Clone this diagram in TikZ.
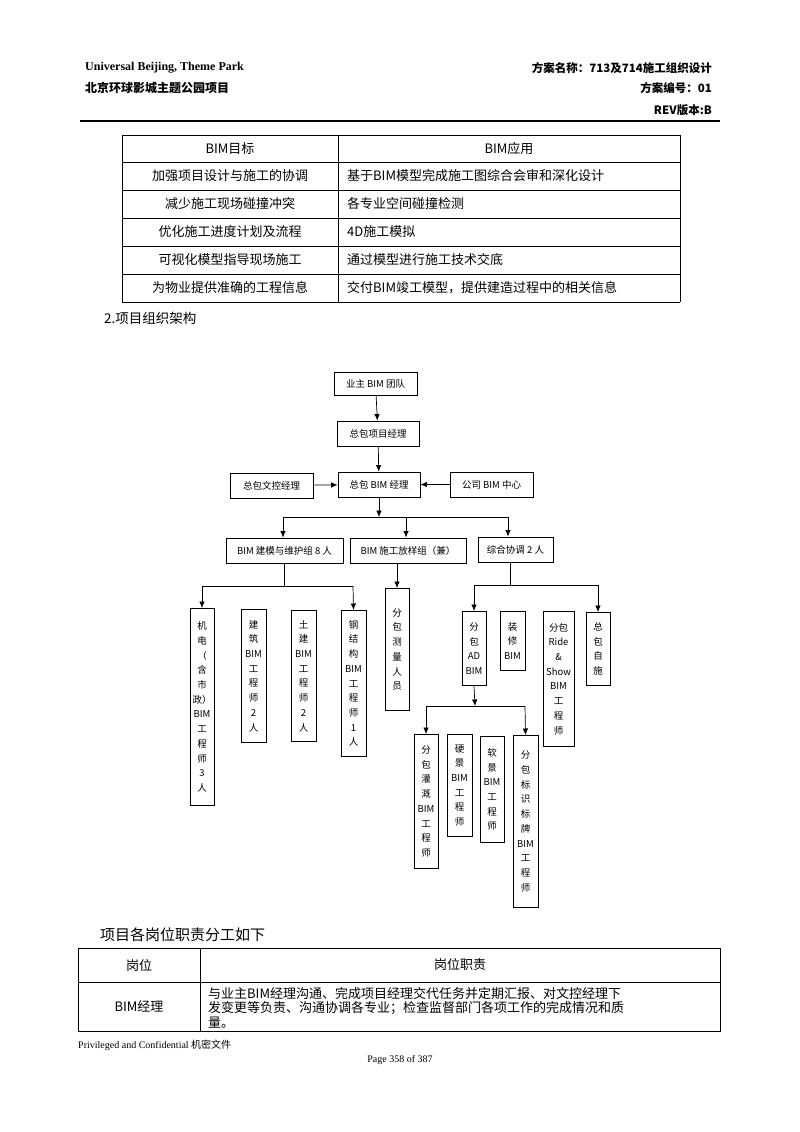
\documentclass[tikz,border=0pt]{standalone}
\usepackage{fontspec}
\setmainfont{Liberation Serif}
\newfontfamily\cjk{Noto Sans CJK SC}
\usetikzlibrary{arrows.meta}
\begin{document}
\begin{tikzpicture}[x=1pt,y=-1pt,
  bx/.style={draw,line width=0.9pt,inner sep=0pt,font=\cjk\fontsize{9.5}{10}\selectfont,align=center},
  vb/.style={draw,line width=0.9pt,inner sep=0pt,font=\cjk\fontsize{9.5}{14.7}\selectfont,align=center,anchor=north},
  ar/.style={-{Latex[length=6.5pt,width=5.5pt]},line width=0.7pt},
  ln/.style={line width=0.7pt},
  tt/.style={font=\cjk\fontsize{13}{15}\selectfont,inner sep=0pt}]
\useasboundingbox (0,0) rectangle (800,1132);
% header
\node[anchor=west,font=\bfseries\fontsize{12}{13}\selectfont,inner sep=0] (h1) at (85,68) {Universal Beijing, Theme Park};
\node[anchor=west,font=\cjk\bfseries\fontsize{12}{13}\selectfont,inner sep=0] (h2) at (85,88) {北京环球影城主题公园项目};
\node[anchor=east,font=\cjk\bfseries\fontsize{11.5}{13}\selectfont,inner sep=0] (h3) at (712,68) {方案名称：713及714施工组织设计};
\node[anchor=east,font=\cjk\bfseries\fontsize{11.5}{13}\selectfont,inner sep=0] (h4) at (712,88) {方案编号：01};
\node[anchor=east,font=\cjk\bfseries\fontsize{11.5}{13}\selectfont,inner sep=0] (h5) at (712,110) {REV版本:B};
\draw[line width=1.5pt] (80,121) -- (720,121);
% table 1
\foreach \y in {135,162,190,218,246,274,302} \draw[line width=0.7pt] (122,\y) -- (680,\y);
\draw[line width=0.7pt] (122,135) -- (122,302) (338,135) -- (338,302) (680,135) -- (680,302);
\node[tt] (a0) at (230,149) {BIM目标};
\node[tt] (b0) at (509,149) {BIM应用};
\node[tt] (a1) at (230,176) {加强项目设计与施工的协调};
\node[tt] (a2) at (230,204) {减少施工现场碰撞冲突};
\node[tt] (a3) at (230,232) {优化施工进度计划及流程};
\node[tt] (a4) at (230,260) {可视化模型指导现场施工};
\node[tt] (a5) at (230,288) {为物业提供准确的工程信息};
\node[tt,anchor=west] (b1) at (347,176) {基于BIM模型完成施工图综合会审和深化设计};
\node[tt,anchor=west] (b2) at (347,204) {各专业空间碰撞检测};
\node[tt,anchor=west] (b3) at (347,232) {4D施工模拟};
\node[tt,anchor=west] (b4) at (347,260) {通过模型进行施工技术交底};
\node[tt,anchor=west] (b5) at (347,288) {交付BIM竣工模型，提供建造过程中的相关信息};
\node[tt,anchor=west,font=\cjk\fontsize{13.5}{15}\selectfont] (s2) at (104,318) {2.项目组织架构};
% chart
\node[bx,minimum width=83pt,minimum height=23pt] (yz) at (375.5,383.5) {业主 BIM 团队};
\node[bx,minimum width=82pt,minimum height=25pt] (xm) at (378,433.5) {总包项目经理};
\node[bx,minimum width=82pt,minimum height=25pt] (jl) at (379,484.5) {总包 BIM 经理};
\node[bx,minimum width=83pt,minimum height=25pt] (wk) at (271.5,485.5) {总包文控经理};
\node[bx,minimum width=83pt,minimum height=25pt] (gs) at (491.5,484.5) {公司 BIM 中心};
\node[bx,minimum width=117pt,minimum height=25pt] (jm) at (284.5,550.5) {BIM 建模与维护组 8 人};
\node[bx,minimum width=116pt,minimum height=25pt] (fy) at (408,550.5) {BIM 施工放样组（兼）};
\node[bx,minimum width=75pt,minimum height=25pt] (zh) at (515.5,549.5) {综合协调 2 人};
\draw[ar] (yz) -- (xm);
\draw[ar] (xm) -- (jl);
\draw[ar] (wk) -- (jl);
\draw[ar] (gs) -- (jl);
\coordinate (k1) at (379,517);
\draw[ar] (jl.south) -- (k1);
\draw[ln] (283,517) -- (508,517);
\draw[ar] (283,517) -- (jm.north -| 283,0);
\draw[ar] (406,517) -- (fy.north -| 406,0);
\draw[ar] (508,517) -- (zh.north -| 508,0);
% level 3
\node[vb,minimum width=24pt,minimum height=197pt] (jd) at (202,608) {机\\电\\（\\含\\市\\政）\\BIM\\工\\程\\师\\3\\人};
\node[vb,minimum width=25pt,minimum height=133pt] (jz) at (253.5,609) {建\\筑\\BIM\\工\\程\\师\\2\\人};
\node[vb,minimum width=25pt,minimum height=131pt] (tj) at (303.5,610) {土\\建\\BIM\\工\\程\\师\\2\\人};
\node[vb,minimum width=25pt,minimum height=146pt] (gj) at (353.5,610) {钢\\结\\构\\BIM\\工\\程\\师\\1\\人};
\node[vb,minimum width=24pt,minimum height=122pt] (cl) at (397,588) {分\\包\\测\\量\\人\\员};
\node[vb,minimum width=24pt,minimum height=74pt] (ad) at (474,611) {分\\包\\AD\\BIM};
\node[vb,minimum width=25pt,minimum height=59pt] (zx) at (512.5,611) {装\\修\\BIM};
\node[vb,minimum width=31pt,minimum height=135pt] (rs) at (558.5,611) {分包\\Ride\\\&\\Show\\BIM\\工\\程\\师};
\node[vb,minimum width=24pt,minimum height=73pt] (zs) at (598,612) {总\\包\\自\\施};
\draw[ln] (jm.south -| 284,0) -- (284,586);
\draw[ln] (202,586) -- (353,586);
\draw[ar] (202,586) -- (jd.north);
\draw[ar] (353,586) -- (gj.north);
\draw[ar] (fy.south -| 397,0) -- (cl.north);
\draw[ln] (zh.south -| 510,0) -- (510,585);
\draw[ln] (474,585) -- (598,585);
\draw[ar] (474,585) -- (ad.north);
\draw[ar] (598,585) -- (zs.north);
% level 4
\node[vb,minimum width=24pt,minimum height=134pt] (gg) at (426,734) {分\\包\\灌\\溉\\BIM\\工\\程\\师};
\node[vb,minimum width=25pt,minimum height=102pt] (yj) at (459.5,734) {硬\\景\\BIM\\工\\程\\师};
\node[vb,minimum width=24pt,minimum height=106pt] (rj) at (492,736) {软\\景\\BIM\\工\\程\\师};
\node[vb,minimum width=25pt,minimum height=172pt] (bs) at (525.5,735) {分\\包\\标\\识\\标\\牌\\BIM\\工\\程\\师};
\coordinate (k2) at (475,706);
\draw[ar] (ad.south) -- (k2);
\draw[ln] (426,706) -- (525,706);
\draw[ar] (426,706) -- (gg.north);
\draw[ar] (525,706) -- (bs.north);
% table 2
\node[anchor=west,font=\cjk\fontsize{15}{17}\selectfont,inner sep=0] (t2) at (100,935) {项目各岗位职责分工如下};
\draw[line width=0.7pt] (78,948) rectangle (720,1031);
\draw[line width=0.7pt] (78,982) -- (720,982) (200,948) -- (200,1031);
\node[tt] (c0) at (139,965) {岗位};
\node[tt] (d0) at (460,965) {岗位职责};
\node[tt] (c1) at (139,1006) {BIM经理};
\node[tt,anchor=north west,align=left,font=\cjk\fontsize{13}{14.5}\selectfont] (d1) at (208,987) {与业主BIM经理沟通、完成项目经理交代任务并定期汇报、对文控经理下\\发变更等负责、沟通协调各专业；检查监督部门各项工作的完成情况和质\\量。};
% footer
\node[anchor=west,font=\fontsize{10}{11}\selectfont,inner sep=0] (f1) at (78,1045) {Privileged and Confidential {\cjk 机密文件}};
\node[font=\fontsize{10}{11}\selectfont,inner sep=0] (f2) at (400,1060) {Page\ 358\ of\ 387};
\end{tikzpicture}
\end{document}
